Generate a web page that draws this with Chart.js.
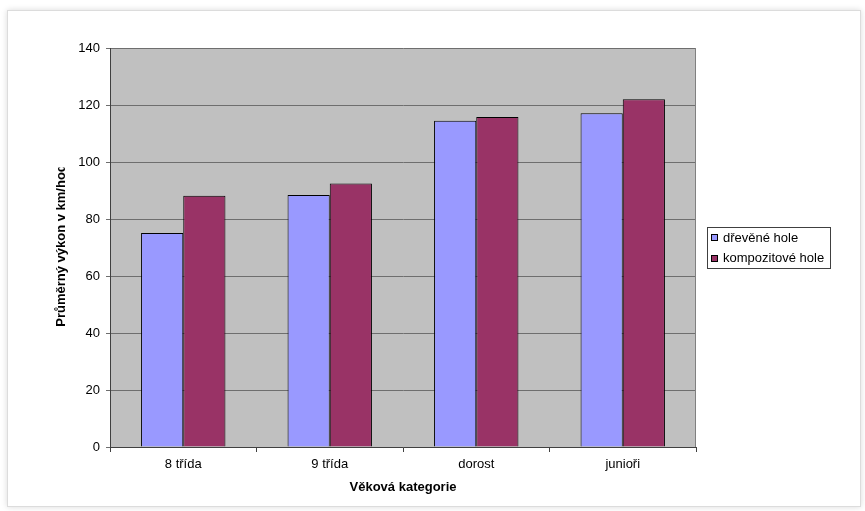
<!DOCTYPE html>
<html>
<head>
<meta charset="utf-8">
<script src="https://cdn.jsdelivr.net/npm/chart.js@4.4.1/dist/chart.umd.min.js"></script>
<style>
    html, body { margin: 0; padding: 0; background: #fff; }
    #wrap { position: relative; width: 865px; height: 511px; overflow: hidden; }
    #frame {
        position: absolute; left: 7px; top: 10px; width: 852px; height: 495px;
        border: 1px solid #dcdcdc; box-shadow: 0 0 6px rgba(0,0,0,0.15); background: #fff;
    }
    canvas { position: absolute; left: 0; top: 0; }
</style>
</head>
<body>
<div id="wrap">
    <div id="frame"></div>
    <canvas id="chart" width="865" height="511"></canvas>
</div>
<script>
// --- Data ---
const categories = ["8 třída", "9 třída", "dorost", "junioři"];
const seriesNames = ["dřevěné hole", "kompozitové hole"];
const woodValues = [75.1, 88.4, 114.5, 117.1];
const compositeValues = [88.2, 92.5, 115.8, 122.0];
const yTickMin = 0, yTickMax = 140, yTickStep = 20;
const xTitle = "Věková kategorie";
const yTitle = "Průměrný výkon v km/hod";

const fontFamily = '"Liberation Sans", Arial, sans-serif';

// grey plot background + right border
const plotBackground = {
    id: "plotBackground",
    beforeDraw(chart) {
        const { ctx, chartArea: a } = chart;
        ctx.save();
        ctx.fillStyle = "#c0c0c0";
        ctx.fillRect(a.left, a.top, a.right - a.left, a.bottom - a.top);
        ctx.restore();
    },
    afterDatasetsDraw(chart) {
        const { ctx, chartArea: a } = chart;
        ctx.save();
        ctx.strokeStyle = "#808080";
        ctx.lineWidth = 1;
        ctx.beginPath();
        ctx.moveTo(a.right - 0.5, a.top);
        ctx.lineTo(a.right - 0.5, a.bottom);
        ctx.stroke();
        ctx.restore();
    }
};

// rotated y title, cut off at its end like the original
const yAxisTitle = {
    id: "yAxisTitle",
    afterDraw(chart) {
        const { ctx, chartArea: a } = chart;
        ctx.save();
        ctx.font = "bold 13px " + fontFamily;
        const w = ctx.measureText(yTitle).width;
        const cy = (a.top + a.bottom) / 2 - 2;
        ctx.beginPath();
        ctx.rect(0, cy - w / 2 + 3, 100, 511);
        ctx.clip();
        ctx.translate(61, cy);
        ctx.rotate(-Math.PI / 2);
        ctx.textAlign = "center";
        ctx.textBaseline = "middle";
        ctx.fillStyle = "#000";
        ctx.fillText(yTitle, 0, 0);
        ctx.restore();
    }
};

// boxed legend on the right
const boxLegend = {
    id: "boxLegend",
    afterDraw(chart) {
        const ctx = chart.ctx;
        const x = 707, y = 227, w = 123, h = 41;
        ctx.save();
        ctx.strokeStyle = "#404040";
        ctx.lineWidth = 1;
        ctx.strokeRect(x + 0.5, y + 0.5, w, h);
        ctx.font = "13px " + fontFamily;
        ctx.textBaseline = "middle";
        chart.data.datasets.forEach((ds, i) => {
            const cy = y + 11 + i * 20.5;
            ctx.fillStyle = ds.backgroundColor;
            ctx.fillRect(711, Math.round(cy) - 3, 6, 6);
            ctx.strokeStyle = "#000";
            ctx.strokeRect(711.5, Math.round(cy) - 3.5, 6, 6);
            ctx.fillStyle = "#000";
            ctx.fillText(ds.label, 723, cy);
        });
        ctx.restore();
    }
};

const ctx = document.getElementById("chart").getContext("2d");
new Chart(ctx, {
    type: "bar",
    data: {
        labels: categories,
        datasets: [
            { label: seriesNames[0], data: woodValues, backgroundColor: "#9999ff", borderColor: "#000", borderWidth: 1 },
            { label: seriesNames[1], data: compositeValues, backgroundColor: "#993366", borderColor: "#000", borderWidth: 1 }
        ]
    },
    options: {
        responsive: false,
        animation: false,
        layout: { padding: { left: 0, top: 48, right: 169, bottom: 0 } },
        datasets: { bar: { categoryPercentage: 0.576, barPercentage: 1 } },
        plugins: { legend: { display: false }, tooltip: { enabled: false } },
        scales: {
            x: {
                grid: { offset: true, drawOnChartArea: false, color: "#404040", tickLength: 5 },
                border: { color: "#404040" },
                ticks: { color: "#000", font: { family: fontFamily, size: 13 }, padding: 5, maxRotation: 0, autoSkip: false },
                title: { display: true, text: xTitle, color: "#000", font: { family: fontFamily, size: 13, weight: "bold" }, padding: { top: 0, bottom: 16 } },
                afterFit(scale) { scale.height = 64; }
            },
            y: {
                min: yTickMin,
                max: yTickMax,
                ticks: { stepSize: yTickStep, color: "#000", font: { family: fontFamily, size: 13 }, padding: 6 },
                grid: { color: "#6e6e6e", tickLength: 4 },
                border: { color: "#404040" },
                afterFit(scale) { scale.width = 110; }
            }
        }
    },
    plugins: [plotBackground, yAxisTitle, boxLegend]
});
</script>
</body>
</html>
